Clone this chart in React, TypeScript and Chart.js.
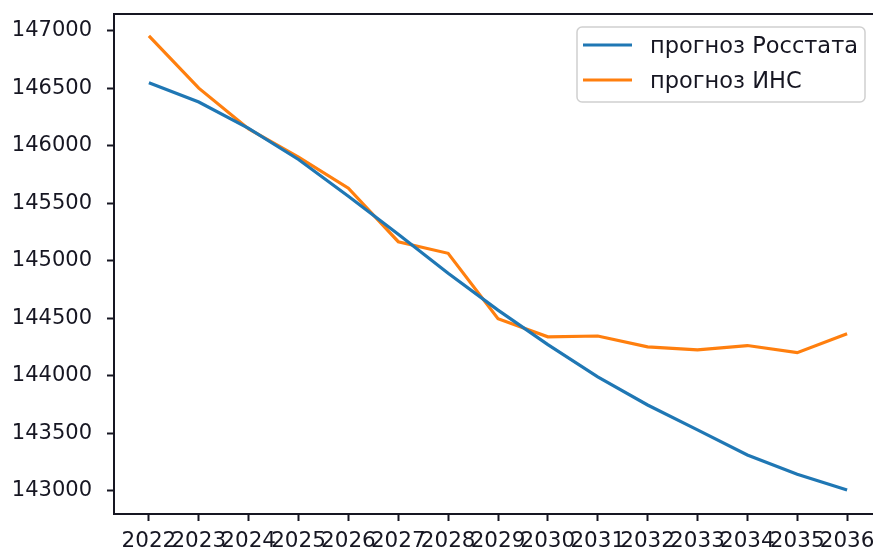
import React, { useEffect, useRef } from "react";
import { Chart, registerables } from "chart.js";

Chart.register(...registerables);

const years = [2022, 2023, 2024, 2025, 2026, 2027, 2028, 2029, 2030, 2031, 2032, 2033, 2034, 2035, 2036];
const rosstat = [146548, 146380, 146150, 145880, 145560, 145230, 144890, 144570, 144270, 143990, 143745, 143528, 143310, 143142, 143006];
const ins = [146955, 146500, 146145, 145900, 145630, 145165, 145064, 144495, 144338, 144345, 144250, 144225, 144262, 144200, 144365];
const yTicks = [143000, 143500, 144000, 144500, 145000, 145500, 146000, 146500, 147000];
const seriesLabels = ["прогноз Росстата", "прогноз ИНС"];
const seriesColors = ["#1f77b4", "#ff7f0e"];

const FONT = "DejaVu Sans";
const TEXT = "#161622";

const framePlugin = {
  id: "frame",
  afterDatasetsDraw(chart: any) {
    const { ctx, chartArea } = chart;
    ctx.save();
    ctx.strokeStyle = TEXT;
    ctx.lineWidth = 2;
    ctx.strokeRect(chartArea.left, chartArea.top, chartArea.right - chartArea.left, chartArea.bottom - chartArea.top);
    ctx.restore();
  },
};

const legendPlugin = {
  id: "mplLegend",
  afterDraw(chart: any) {
    const { ctx } = chart;
    const x0 = 577, y0 = 27, w = 288, h = 75;
    ctx.save();
    ctx.fillStyle = "rgba(255,255,255,0.85)";
    ctx.strokeStyle = "#d0d0d0";
    ctx.lineWidth = 1.5;
    ctx.beginPath();
    ctx.roundRect(x0, y0, w, h, 5);
    ctx.fill();
    ctx.stroke();
    ctx.font = `22.5px "${FONT}"`;
    ctx.textBaseline = "middle";
    chart.data.datasets.forEach((ds: any, i: number) => {
      const cy = y0 + 18 + i * 35;
      ctx.strokeStyle = ds.borderColor;
      ctx.lineWidth = 3;
      ctx.beginPath();
      ctx.moveTo(583, cy);
      ctx.lineTo(632, cy);
      ctx.stroke();
      ctx.fillStyle = TEXT;
      ctx.fillText(ds.label, 650, cy + 2);
    });
    ctx.restore();
  },
};

export default function App() {
  const ref = useRef<HTMLCanvasElement>(null);
  useEffect(() => {
    if (!ref.current) return;
    const chart = new Chart(ref.current, {
      type: "line",
      data: {
        datasets: [rosstat, ins].map((vals, i) => ({
          label: seriesLabels[i],
          data: years.map((y, j) => ({ x: y, y: vals[j] })),
          borderColor: seriesColors[i],
          backgroundColor: seriesColors[i],
          borderWidth: 3.2,
          pointRadius: 0,
          tension: 0,
          fill: false,
        })),
      },
      options: {
        animation: false,
        responsive: false,
        layout: { padding: { top: 14, right: 18, left: 0, bottom: 0 } },
        plugins: { legend: { display: false }, tooltip: { enabled: false } },
        scales: {
          x: {
            type: "linear",
            min: 2021.3,
            max: 2036.7,
            afterBuildTicks: (s: any) => { s.ticks = years.map((v) => ({ value: v })); },
            afterFit: (s: any) => { s.height = 35; s.paddingLeft = 0; s.paddingRight = 0; },
            border: { display: false },
            grid: { drawOnChartArea: false, drawTicks: true, tickLength: 7, tickColor: TEXT, tickWidth: 2 },
            ticks: {
              autoSkip: false,
              maxRotation: 0,
              minRotation: 0,
              padding: 8,
              color: TEXT,
              font: { family: FONT, size: 21.5 },
              callback: (v: any) => String(v),
            },
          },
          y: {
            min: 142797,
            max: 147145,
            afterBuildTicks: (s: any) => { s.ticks = yTicks.map((v) => ({ value: v })); },
            afterFit: (s: any) => { s.width = 114; s.paddingTop = 0; s.paddingBottom = 0; },
            border: { display: false },
            grid: { drawOnChartArea: false, drawTicks: true, tickLength: 7, tickColor: TEXT, tickWidth: 2 },
            ticks: {
              autoSkip: false,
              padding: 15,
              color: TEXT,
              font: { family: FONT, size: 21 },
              callback: (v: any) => String(v),
            },
          },
        },
      },
      plugins: [framePlugin, legendPlugin],
    });
    return () => chart.destroy();
  }, []);
  return (
    <div style={{ position: "fixed", left: 0, top: 0, width: 873, height: 549, overflow: "hidden", background: "#fff" }}>
      <canvas ref={ref} width={900} height={549} style={{ width: 900, height: 549, display: "block" }} />
    </div>
  );
}
